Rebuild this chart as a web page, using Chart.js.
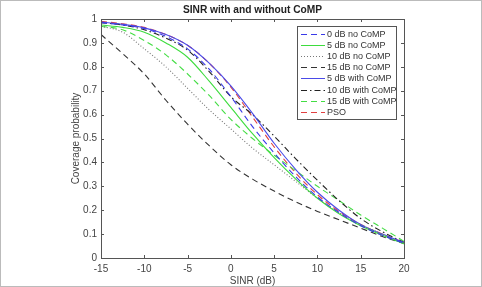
<!DOCTYPE html>
<html>
<head>
<meta charset="utf-8">
<script src="https://cdn.jsdelivr.net/npm/chart.js@4.4.1/dist/chart.umd.min.js"></script>
<style>
  html, body { margin: 0; padding: 0; background: #fff; }
  #wrap { width: 482px; height: 287px; }
</style>
</head>
<body>
<div id="wrap"><canvas id="myChart" width="482" height="287"></canvas></div>
<script>
// SINR values (dB) along the x axis
var sinrDb = [-15, -12.5, -10, -7.5, -5, -2.5, 0, 2.5, 5, 7.5, 10, 12.5, 15, 17.5, 20];

// coverage probability curves
var noComp0 = [0.985, 0.975, 0.96, 0.927, 0.875, 0.79, 0.675, 0.55, 0.44, 0.34, 0.255, 0.19, 0.135, 0.095, 0.062];
var noComp5 = [0.975, 0.965, 0.945, 0.9, 0.84, 0.74, 0.63, 0.52, 0.42, 0.33, 0.25, 0.185, 0.135, 0.095, 0.06];
var noComp10 = [0.97, 0.945, 0.875, 0.8, 0.71, 0.62, 0.54, 0.46, 0.39, 0.32, 0.25, 0.19, 0.14, 0.1, 0.06];
var noComp15 = [0.935, 0.855, 0.77, 0.66, 0.56, 0.47, 0.39, 0.33, 0.28, 0.235, 0.195, 0.16, 0.125, 0.09, 0.06];
var withComp5 = [0.987, 0.978, 0.963, 0.935, 0.89, 0.815, 0.72, 0.605, 0.48, 0.37, 0.275, 0.2, 0.14, 0.1, 0.065];
var withComp10 = [0.985, 0.975, 0.955, 0.92, 0.87, 0.78, 0.675, 0.6, 0.51, 0.415, 0.325, 0.24, 0.165, 0.11, 0.065];
var withComp15 = [0.97, 0.955, 0.91, 0.85, 0.77, 0.68, 0.58, 0.5, 0.43, 0.365, 0.3, 0.24, 0.18, 0.125, 0.07];
var pso = [0.99, 0.98, 0.965, 0.935, 0.89, 0.815, 0.715, 0.59, 0.465, 0.355, 0.265, 0.195, 0.14, 0.1, 0.065];

var seriesLabels = ['0 dB no CoMP', '5 dB no CoMP', '10 dB no CoMP', '15 dB no CoMP',
     '5 dB with CoMP', '10 dB with CoMP', '15 dB with CoMP', 'PSO'];

var xTicks = [-15, -10, -5, 0, 5, 10, 15, 20];
var yTicks = [0, 0.1, 0.2, 0.3, 0.4, 0.5, 0.6, 0.7, 0.8, 0.9, 1];

var axisColor = '#555555';
var textColor = '#444444';
var fontFamily = '"Liberation Sans", Arial, sans-serif';

function toPoints(values) {
     return values.map(function (v, i) { return { x: sinrDb[i], y: v }; });
}

function makeSet(label, values, color, dash) {
     return {
          label: label,
          data: toPoints(values),
          borderColor: color,
          backgroundColor: color,
          borderWidth: 1.1,
          borderDash: dash,
          pointRadius: 0,
          fill: false,
          cubicInterpolationMode: 'monotone'
     };
}

var DASH = [6, 4];
var DOT = [1, 2];
var DASHDOT = [6, 3, 1.5, 3];

// Helper plugin: MATLAB style box, inner ticks, title, axis labels, legend and frame
var decorations = {
     id: 'decorations',
     afterDatasetsDraw: function (chart) {
          var ctx = chart.ctx;
          var a = chart.chartArea;
          var xs = chart.scales.x;
          var ys = chart.scales.y;
          ctx.save();
          ctx.strokeStyle = axisColor;
          ctx.lineWidth = 1;
          ctx.setLineDash([]);
          ctx.strokeRect(Math.round(a.left) + 0.5, Math.round(a.top) + 0.5,
               Math.round(a.right - a.left), Math.round(a.bottom - a.top));

          ctx.beginPath();
          xTicks.forEach(function (t) {
               var px = Math.round(xs.getPixelForValue(t)) + 0.5;
               ctx.moveTo(px, a.bottom); ctx.lineTo(px, a.bottom - 3);
               ctx.moveTo(px, a.top); ctx.lineTo(px, a.top + 3);
          });
          yTicks.forEach(function (t) {
               var py = Math.round(ys.getPixelForValue(t)) + 0.5;
               ctx.moveTo(a.left, py); ctx.lineTo(a.left + 3, py);
               ctx.moveTo(a.right, py); ctx.lineTo(a.right - 3, py);
          });
          ctx.stroke();

          // title
          ctx.fillStyle = '#222';
          ctx.font = 'bold 10.2px ' + fontFamily;
          ctx.textAlign = 'center';
          ctx.textBaseline = 'middle';
          ctx.fillText('SINR with and without CoMP', (a.left + a.right) / 2, 10);

          // axis titles
          ctx.fillStyle = textColor;
          ctx.font = '10px ' + fontFamily;
          ctx.fillText('SINR (dB)', (a.left + a.right) / 2, 281);
          ctx.save();
          ctx.translate(76, (a.top + a.bottom) / 2);
          ctx.rotate(-Math.PI / 2);
          ctx.fillText('Coverage probability', 0, 0);
          ctx.restore();

          // legend box
          var lx = 297, ly = 26, lw = 99, lh = 93;
          ctx.fillStyle = '#fff';
          ctx.fillRect(lx, ly, lw, lh);
          ctx.strokeStyle = axisColor;
          ctx.strokeRect(lx + 0.5, ly + 0.5, lw, lh);
          ctx.font = '9px ' + fontFamily;
          ctx.textAlign = 'left';
          chart.data.datasets.forEach(function (ds, i) {
               var y = Math.round(ly + 7.5 + i * 11.2) + 0.5;
               ctx.strokeStyle = ds.borderColor;
               ctx.setLineDash(ds.borderDash || []);
               ctx.beginPath();
               ctx.moveTo(lx + 4, y);
               ctx.lineTo(lx + 28, y);
               ctx.stroke();
               ctx.fillStyle = '#333';
               ctx.fillText(ds.label, lx + 30, y);
          });
          ctx.setLineDash([]);

          // outer figure frame
          ctx.strokeStyle = '#bbbbbb';
          ctx.strokeRect(0.5, 0.5, 481, 286);
          ctx.restore();
     }
};

function createCoverageChart() {
     var ctx = document.getElementById('myChart').getContext('2d');
     window.myChart = new Chart(ctx, {
          type: 'line',
          data: {
               datasets: [
                    makeSet(seriesLabels[0], noComp0, '#3a3ae8', DASH),
                    makeSet(seriesLabels[1], noComp5, '#3ddc3d', []),
                    makeSet(seriesLabels[2], noComp10, '#777777', DOT),
                    makeSet(seriesLabels[3], noComp15, '#333333', DASH),
                    makeSet(seriesLabels[4], withComp5, '#4a4ae8', []),
                    makeSet(seriesLabels[5], withComp10, '#222222', DASHDOT),
                    makeSet(seriesLabels[6], withComp15, '#44dd44', DASH),
                    makeSet(seriesLabels[7], pso, '#e04040', DASH)
               ]
          },
          options: {
               responsive: false,
               animation: false,
               layout: { padding: { left: 0, top: 19, right: 78, bottom: 0 } },
               scales: {
                    x: {
                         type: 'linear',
                         min: -15,
                         max: 20,
                         afterFit: function (s) { s.height = 29; },
                         afterBuildTicks: function (s) {
                              s.ticks = xTicks.map(function (v) { return { value: v }; });
                         },
                         grid: { display: false, tickLength: 0 },
                         border: { display: false },
                         ticks: {
                              color: textColor,
                              padding: 5,
                              font: { size: 10, family: fontFamily }
                         }
                    },
                    y: {
                         min: 0,
                         max: 1,
                         afterFit: function (s) { s.width = 101; },
                         afterBuildTicks: function (s) {
                              s.ticks = yTicks.map(function (v) { return { value: v }; });
                         },
                         grid: { display: false, tickLength: 0 },
                         border: { display: false },
                         ticks: {
                              color: textColor,
                              padding: 4,
                              font: { size: 10, family: fontFamily },
                              callback: function (v) { return String(Math.round(v * 10) / 10); }
                         }
                    }
               },
               plugins: {
                    legend: { display: false },
                    tooltip: { enabled: false }
               }
          },
          plugins: [decorations]
     });
}

createCoverageChart();
</script>
</body>
</html>
